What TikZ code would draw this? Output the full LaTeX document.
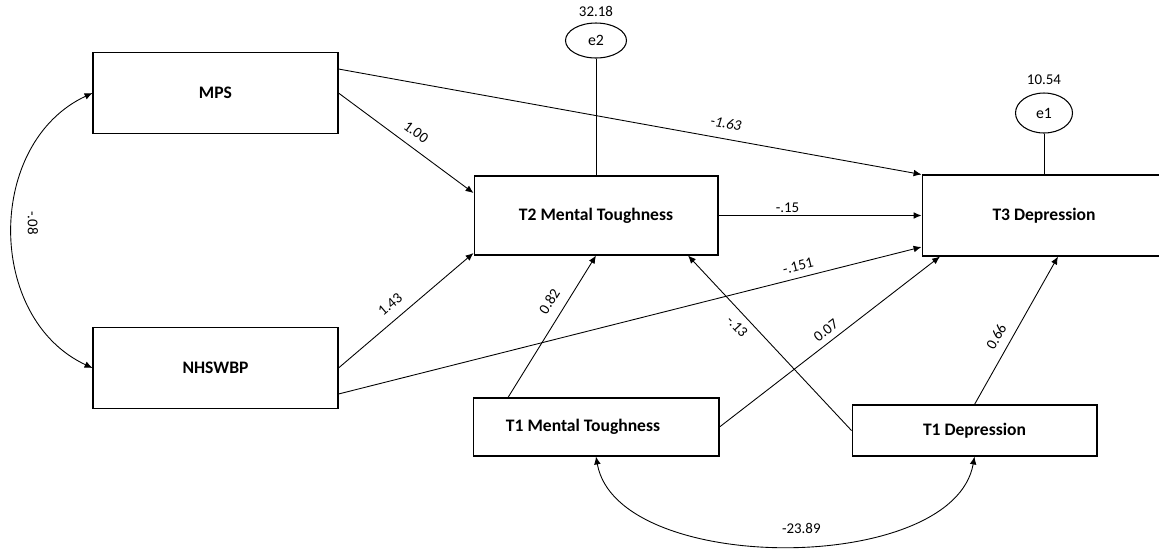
\documentclass[tikz,border=0pt]{standalone}
\usepackage{fontspec}
\setmainfont{Carlito}
\usetikzlibrary{positioning, calc, arrows.meta, shapes.geometric}

\begin{document}
\begin{tikzpicture}[x=0.02cm, y=-0.02cm,
    >={Latex[length=4.5pt,width=3.8pt]},
    var/.style={draw, rectangle, inner sep=0pt, line width=0.6pt,
                font=\bfseries\fontsize{10}{12}\selectfont},
    err/.style={draw, ellipse, inner sep=0pt, line width=0.6pt,
                font=\fontsize{9}{11}\selectfont},
    num/.style={font=\fontsize{8.5}{10}\selectfont, inner sep=1pt},
    reg/.style={->, line width=0.5pt},
    cov/.style={<->, line width=0.5pt}]

    \useasboundingbox (0,0) rectangle (1159,549);

    % observed variables
    \node[var, minimum width=4.9cm, minimum height=1.62cm] (mps) at (215.5,93) {MPS};
    \node[var, minimum width=4.9cm, minimum height=1.62cm] (nhswbp) at (215.5,368) {NHSWBP};
    \node[var, minimum width=4.88cm, minimum height=1.58cm] (ttwo) at (596,215.5) {T2 Mental Toughness};
    \node[var, minimum width=4.88cm, minimum height=1.62cm] (tthree) at (1044,215.5) {T3 Depression};
    \node[var, minimum width=4.92cm, minimum height=1.16cm,
          label={[font=\bfseries\fontsize{10}{12}\selectfont, xshift=-0.26cm]center:T1 Mental Toughness}] (tonemt) at (596,427) {};
    \node[var, minimum width=4.9cm, minimum height=1.02cm] (tonedep) at (974.5,430.5) {T1 Depression};

    % residuals
    \node[err, minimum width=1.22cm, minimum height=0.7cm,
          label={[num, label distance=2pt]above:32.18}] (etwo) at (596,40.5) {e2};
    \node[err, minimum width=1.14cm, minimum height=0.8cm,
          label={[num, label distance=3pt]above:10.54}] (eone) at (1044,113) {e1};
    \draw[line width=0.5pt] (etwo.south) -- (ttwo.north);
    \draw[line width=0.5pt] (eone.south) -- (tthree.north);

    % regression paths
    \draw[reg] (mps.east) -- node[num, sloped, pos=0.51, above=4.3pt] (lmpsttwo) {1.00} (ttwo.west |- 0,193);
    \draw[reg] (mps.east |- 0,69) -- node[num, sloped, pos=0.66, above=4.6pt,
          font=\itshape\fontsize{8.5}{10}\selectfont] (lmpstthree) {-1.63} (tthree.north west);
    \draw[reg] (nhswbp.east) -- node[num, sloped, pos=0.454, above=4.4pt] (lnhsttwo) {1.43} (ttwo.west |- 0,253);
    \draw[reg] (nhswbp.east |- 0,394) -- node[num, sloped, pos=0.793, above=2.6pt] (lnhstthree) {-.151} (tthree.west |- 0,247);
    \draw[reg] (ttwo.east) -- node[num, pos=0.34, above=0.5pt] (lttwotthree) {-.15} (tthree.west);
    \draw[reg] (tonemt.north -| 508,0) -- node[num, sloped, pos=0.62, above=4.7pt] (ltonemtttwo) {0.82} (ttwo.south);
    \draw[reg] (tonemt.east) -- node[num, sloped, pos=0.514, above=2.4pt] (ltonemttthree) {0.07} (tthree.south -| 940,0);
    \draw[reg] (tonedep.west) -- node[num, sloped, pos=0.643, below=3.1pt] (ltonedepttwo) {-.13} (ttwo.south -| 688,0);
    \draw[reg] (tonedep.north) -- node[num, sloped, pos=0.41, above=4pt] (ltonedeptthree) {0.66} (tthree.south -| 1058,0);

    % covariances
    \draw[cov] (mps.west) to[out=205, in=155, looseness=1.1] (nhswbp.west);
    \node[num, rotate=-90] (lcovmps) at (33,223) {-.08};
    \draw[cov] (tonemt.south) to[out=-80, in=-100, looseness=0.82]
          node[num, pos=0.53, above=5.4pt] (lcovtone) {-23.89} (tonedep.south);
\end{tikzpicture}
\end{document}
